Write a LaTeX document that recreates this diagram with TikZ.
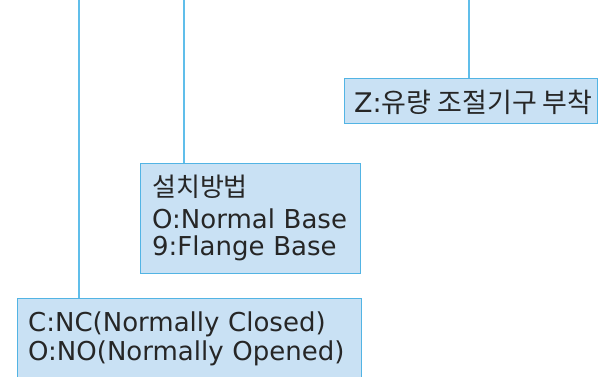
\documentclass[tikz,border=0pt]{standalone}
\usepackage{fontspec}
\setmainfont{DejaVu Sans}
\newfontfamily\kor{Noto Sans CJK KR}
\usepackage{tikz}
\definecolor{boxfill}{RGB}{201,225,244}
\definecolor{boxline}{RGB}{82,180,228}
\definecolor{stemblue}{RGB}{96,190,234}
\definecolor{textgray}{RGB}{38,38,38}

\begin{document}
\begin{tikzpicture}[x=1pt,y=-1pt]
          \tikzstyle{box}=[rectangle,draw=boxline,fill=boxfill,line width=1.3pt,anchor=north west,inner sep=0pt]
          \tikzstyle{txt}=[anchor=base west,align=left,inner sep=0pt,text=textgray]
          \tikzstyle{stem}=[draw=stemblue,line width=2.4pt]

          \useasboundingbox (0,0) rectangle (598,376);
          \clip (0,0) rectangle (598,376);

          \begin{scope}
            \node[box,minimum width=253pt,minimum height=45pt](zbox) at (344,78){};
            \node[txt,font=\fontsize{27}{32}\selectfont](ztext) at (354,112)
              {Z:{\kor\fontsize{27}{30}\selectfont 유량 조절기구 부착}};

            \node[box,minimum width=220pt,minimum height=110pt](mbox) at (140,163){};
            \node[txt,text width=214pt,font=\fontsize{26}{27}\selectfont](mtext) at (152,196)
              {{\kor\fontsize{26}{27}\selectfont 설치방법}\\[5pt]O:Normal Base\\9:Flange Base};

            \node[box,minimum width=344pt,minimum height=110pt](cbox) at (17,298){};
            \node[txt,text width=330pt,font=\fontsize{26}{29}\selectfont](ctext) at (28,331)
              {C:NC(Normally Closed)\\O:NO(Normally Opened)};

            \coordinate (ctop) at (79,0);
            \coordinate (mtop) at (184,0);
            \coordinate (ztop) at (469,0);

            \path[stem]
            (ctop) edge (ctop |- cbox.north)
            (mtop) edge (mtop |- mbox.north)
            (ztop) edge (ztop |- zbox.north);
          \end{scope}
        \end{tikzpicture}
\end{document}
